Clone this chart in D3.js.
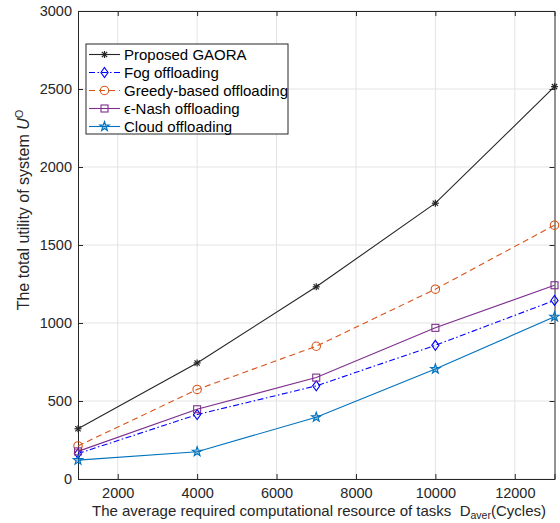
<!DOCTYPE html>
<html>
<head>
<meta charset="utf-8">
<script src="https://cdn.jsdelivr.net/npm/d3@7"></script>
<style>
  html, body { margin: 0; padding: 0; background: #fff; }
  svg { display: block; font-family: "Liberation Sans", Arial, sans-serif; }
</style>
</head>
<body>
<svg id="chart" width="560" height="523"></svg>
<script>
// Average required computational resource of tasks (cycles)
const demand = [1000, 4000, 7000, 10000, 13000];

// Total system utility per scheme
const gaora  = [322, 744, 1232, 1768, 2515];
const fog    = [163, 413, 597, 857, 1145];
const greedy = [212, 574, 851, 1217, 1627];
const nash   = [177, 447, 650, 969, 1242];
const cloud  = [121, 175, 396, 705, 1040];

const seriesNames = ["Proposed GAORA", "Fog offloading", "Greedy-based offloading", "\u03f5-Nash offloading", "Cloud offloading"];

const xTicks = [2000, 4000, 6000, 8000, 10000, 12000];
const yTicks = [0, 500, 1000, 1500, 2000, 2500, 3000];

const styles = [
  { values: gaora,  color: "#262626", dash: null,          marker: "asterisk" },
  { values: fog,    color: "#0000ff", dash: "6,2.5,1.5,2.5", marker: "diamond" },
  { values: greedy, color: "#d95319", dash: "6,4",         marker: "circle" },
  { values: nash,   color: "#7e2f8e", dash: null,          marker: "square" },
  { values: cloud,  color: "#0072bd", dash: null,          marker: "star" }
];

const svg = d3.select("#chart");
const L = 78, R = 554.5, T = 11, B = 479;
const axisColor = "#262626";

const x = d3.scaleLinear().domain([1000, 13000]).range([L, R]);
const y = d3.scaleLinear().domain([0, 3000]).range([B, T]);

// grid
const grid = svg.append("g");
grid.selectAll("line.gx").data(xTicks).join("line")
  .attr("x1", d => x(d)).attr("x2", d => x(d))
  .attr("y1", T).attr("y2", B)
  .attr("stroke", "#e3e3e3").attr("stroke-width", 1);
grid.selectAll("line.gy").data(yTicks).join("line")
  .attr("y1", d => y(d)).attr("y2", d => y(d))
  .attr("x1", L).attr("x2", R)
  .attr("stroke", "#e3e3e3").attr("stroke-width", 1);

// axes with inward ticks
const xAxisB = d3.axisBottom(x).tickValues(xTicks).tickSize(-5).tickPadding(9).tickFormat(d3.format("d"));
const xAxisT = d3.axisTop(x).tickValues(xTicks).tickSize(-5).tickFormat("");
const yAxisL = d3.axisLeft(y).tickValues(yTicks).tickSize(-5).tickPadding(6).tickFormat(d3.format("d"));
const yAxisR = d3.axisRight(y).tickValues(yTicks).tickSize(-5).tickFormat("");

function styleAxis(g) {
  g.select(".domain").attr("stroke", axisColor).attr("stroke-width", 1);
  g.selectAll(".tick line").attr("stroke", axisColor);
  g.selectAll(".tick text").attr("fill", axisColor)
    .style("font-family", "Liberation Sans, Arial, sans-serif").style("font-size", "14.5px");
}
svg.append("g").attr("transform", `translate(0,${B})`).call(xAxisB).call(styleAxis);
svg.append("g").attr("transform", `translate(0,${T})`).call(xAxisT).call(styleAxis);
svg.append("g").attr("transform", `translate(${L},0)`).call(yAxisL).call(styleAxis);
svg.append("g").attr("transform", `translate(${R},0)`).call(yAxisR).call(styleAxis);

// marker drawing
function drawMarker(g, type, cx, cy, color) {
  if (type === "asterisk") {
    const r = 3.5;
    const p = g.append("g").attr("stroke", color).attr("stroke-width", 1.2);
    p.append("line").attr("x1", cx - r).attr("x2", cx + r).attr("y1", cy).attr("y2", cy);
    p.append("line").attr("x1", cx).attr("x2", cx).attr("y1", cy - r).attr("y2", cy + r);
    const k = r * 0.75;
    p.append("line").attr("x1", cx - k).attr("x2", cx + k).attr("y1", cy - k).attr("y2", cy + k);
    p.append("line").attr("x1", cx - k).attr("x2", cx + k).attr("y1", cy + k).attr("y2", cy - k);
  } else if (type === "diamond") {
    g.append("path")
      .attr("d", `M${cx},${cy - 5}L${cx + 3.6},${cy}L${cx},${cy + 5}L${cx - 3.6},${cy}Z`)
      .attr("fill", "none").attr("stroke", color).attr("stroke-width", 1.1);
  } else if (type === "circle") {
    g.append("circle").attr("cx", cx).attr("cy", cy).attr("r", 4.2)
      .attr("fill", "none").attr("stroke", color).attr("stroke-width", 1.1);
  } else if (type === "square") {
    g.append("rect").attr("x", cx - 3.5).attr("y", cy - 3.5).attr("width", 7).attr("height", 7)
      .attr("fill", "none").attr("stroke", color).attr("stroke-width", 1.1);
  } else if (type === "star") {
    const pts = [];
    for (let i = 0; i < 10; i++) {
      const a = -Math.PI / 2 + i * Math.PI / 5;
      const rr = i % 2 === 0 ? 5 : 2;
      pts.push([cx + rr * Math.cos(a), cy + rr * Math.sin(a)]);
    }
    g.append("path").attr("d", "M" + pts.map(p => p.join(",")).join("L") + "Z")
      .attr("fill", color).attr("fill-opacity", 0.35).attr("stroke", color).attr("stroke-width", 1.1);
  }
}

// series lines + markers
const line = d3.line().x((d, i) => x(demand[i])).y(d => y(d));
const plot = svg.append("g");
styles.forEach(s => {
  plot.append("path").datum(s.values)
    .attr("d", line)
    .attr("fill", "none")
    .attr("stroke", s.color)
    .attr("stroke-width", 1.1)
    .attr("stroke-dasharray", s.dash);
  const mg = plot.append("g");
  s.values.forEach((v, i) => drawMarker(mg, s.marker, x(demand[i]), y(v), s.color));
});

// legend
const lg = svg.append("g");
lg.append("rect").attr("x", 86).attr("y", 44).attr("width", 202).attr("height", 90)
  .attr("fill", "#fff").attr("stroke", axisColor).attr("stroke-width", 1);
styles.forEach((s, i) => {
  const cy = 54.5 + i * 18;
  lg.append("line").attr("x1", 89).attr("x2", 120).attr("y1", cy).attr("y2", cy)
    .attr("stroke", s.color).attr("stroke-width", 1.1).attr("stroke-dasharray", s.dash);
  drawMarker(lg, s.marker, 104.5, cy, s.color);
  lg.append("text").attr("x", 124).attr("y", cy + 5.5)
    .attr("fill", "#000").style("font-size", "15px")
    .text(seriesNames[i]);
});

// axis titles
const xt = svg.append("text").attr("x", 92).attr("y", 516)
  .attr("fill", "#262626").style("font-size", "15px").style("white-space", "pre");
xt.append("tspan").text("The average required computational resource of tasks  D");
xt.append("tspan").attr("dy", 3).style("font-size", "10.5px").text("aver");
xt.append("tspan").attr("dy", -3).text("(Cycles)");

const yt = svg.append("text")
  .attr("transform", "translate(29,210) rotate(-90)")
  .attr("text-anchor", "middle")
  .attr("fill", "#262626").style("font-size", "16px");
yt.append("tspan").text("The total utility of system ");
yt.append("tspan").style("font-style", "italic").text("U");
yt.append("tspan").attr("dy", -6).style("font-size", "11px").text("O");
</script>
</body>
</html>
